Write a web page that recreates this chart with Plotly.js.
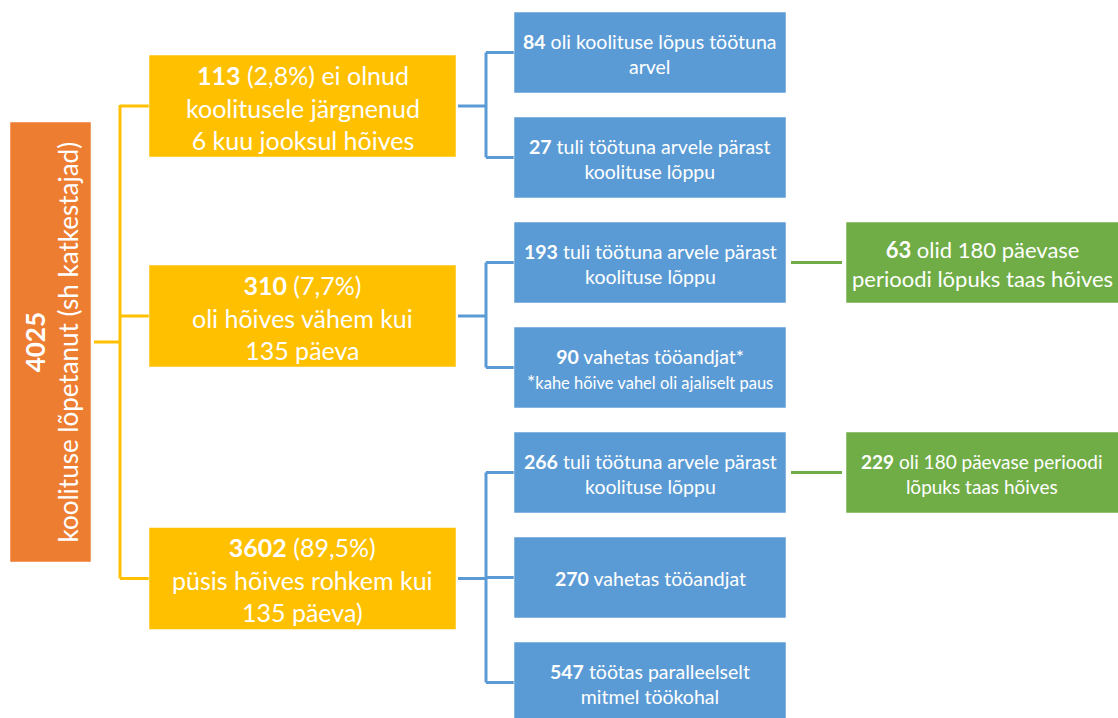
<!DOCTYPE html>
<html>
<head>
<meta charset="utf-8">
<script src="https://cdn.plot.ly/plotly-3.0.1.min.js"></script>
<style>html,body{margin:0;padding:0;background:#fff;}#chart{width:1118px;height:718px;}</style>
</head>
<body>
<div id="chart"></div>
<script>
// ---- data ----
const rootValue = 4025;
const rootLabel = 'koolituse lõpetanut (sh katkestajad)';

const level2Values = [113, 310, 3602];
const level2Pct = ['2,8%', '7,7%', '89,5%'];
const level2Labels = [
  ' ei olnud<br>koolitusele järgnenud<br>6 kuu jooksul hõives',
  '<br>oli hõives vähem kui<br>135 päeva',
  '<br>püsis hõives rohkem kui<br>135 päeva)'
];

const level3Values = [84, 27, 193, 90, 266, 270, 547];
const level3Parent = [0, 0, 1, 1, 2, 2, 2];
const level3Labels = [
  ' oli koolituse lõpus töötuna<br>arvel',
  ' tuli töötuna arvele pärast<br>koolituse lõppu',
  ' tuli töötuna arvele pärast<br>koolituse lõppu',
  ' vahetas tööandjat*<br>*<span style="font-size:16.5px">kahe hõive vahel oli ajaliselt paus</span>',
  ' tuli töötuna arvele pärast<br>koolituse lõppu',
  ' vahetas tööandjat',
  ' töötas paralleelselt<br>mitmel töökohal'
];

const level4Values = [63, 229];
const level4Parent = [2, 4];
const level4Labels = [
  ' olid 180 päevase<br>perioodi lõpuks taas hõives',
  ' oli 180 päevase perioodi<br>lõpuks taas hõives'
];

// ---- style / layout constants ----
const C = {orange:'#ED7D31', yellow:'#FFC000', blue:'#5B9BD5', green:'#70AD47'};
const FONT = 'Lato, "Open Sans", sans-serif';
const root = {x0:10, x1:91, y0:122, y1:562};
const l2 = {x0:149, x1:456, h:102, centers:[106, 316, 578.5]};
const l3 = {x0:514, x1:786, h:81, top:12, pitch:105};
const l4 = {x0:846, x1:1118};
const l4FontSize = [22, 19];

const shapes = [];
const annotations = [];
function rect(x0,y0,x1,y1,col){
  shapes.push({type:'rect', xref:'x', yref:'y', x0, y0, x1, y1, fillcolor:col, line:{width:1, color:'rgba(255,255,255,0.5)'}, layer:'above'});
}
function seg(pts,col,w){
  let d = 'M' + pts.map(p=>p[0]+','+p[1]).join(' L');
  shapes.push({type:'path', xref:'x', yref:'y', path:d, line:{color:col, width:w}, layer:'below'});
}
function label(x,y,text,size,angle){
  annotations.push({x, y, xref:'x', yref:'y', text, showarrow:false, textangle:angle||0,
    font:{family:FONT, size, color:'#ffffff'}, align:'center', xanchor:'center', yanchor:'middle'});
}

// root
rect(root.x0, root.y0, root.x1, root.y1, C.orange);
label((root.x0+root.x1)/2+1, (root.y0+root.y1)/2, '<b>'+rootValue+'</b><br>'+rootLabel, 26, -90);

// level 2 + yellow connectors
const yBus = 120;
seg([[root.x1+3, 342],[yBus, 342]], C.yellow, 3);
seg([[yBus, l2.centers[0]-1],[yBus, l2.centers[2]]], C.yellow, 3);
level2Values.forEach((v,i)=>{
  const c = l2.centers[i];
  rect(l2.x0, c-l2.h/2, l2.x1, c+l2.h/2, C.yellow);
  seg([[yBus, c],[l2.x0, c]], C.yellow, 3);
  label((l2.x0+l2.x1)/2, c+1, '<b>'+v+'</b> ('+level2Pct[i]+')'+level2Labels[i], 25);
});

// level 3 + blue connectors
const l3c = level3Values.map((v,i)=> l3.top + i*l3.pitch + l3.h/2);
const bBus = 486;
level2Values.forEach((v,p)=>{
  const kids = level3Parent.map((q,i)=>q===p?i:-1).filter(i=>i>=0);
  const ys = kids.map(i=>l3c[i]);
  seg([[l2.x1+2, l2.centers[p]],[bBus, l2.centers[p]]], C.blue, 3);
  seg([[bBus, Math.min(...ys)],[bBus, Math.max(...ys)]], C.blue, 3);
  ys.forEach(y=>seg([[bBus, y],[l3.x0, y]], C.blue, 3));
});
level3Values.forEach((v,i)=>{
  const c = l3c[i];
  rect(l3.x0, c-l3.h/2, l3.x1, c+l3.h/2, C.blue);
  label((l3.x0+l3.x1)/2, c+1, '<b>'+v+'</b>'+level3Labels[i], 19.5);
});

// level 4 + green connectors
level4Values.forEach((v,i)=>{
  const c = l3c[level4Parent[i]];
  seg([[l3.x1+5, c],[l4.x0-4, c]], C.green, 3);
  rect(l4.x0, c-l3.h/2, l4.x1+2, c+l3.h/2, C.green);
  label((l4.x0+l4.x1)/2, c+1, '<b>'+v+'</b>'+level4Labels[i], l4FontSize[i]);
});

const layout = {
  width:1118, height:718,
  margin:{l:0, r:0, t:0, b:0},
  paper_bgcolor:'#ffffff', plot_bgcolor:'#ffffff',
  xaxis:{range:[0,1118], visible:false, fixedrange:true},
  yaxis:{range:[718,0], visible:false, fixedrange:true},
  showlegend:false,
  shapes, annotations
};
Plotly.newPlot('chart', [{x:[0], y:[0], mode:'markers', marker:{opacity:0}, hoverinfo:'skip'}], layout, {displayModeBar:false, staticPlot:true});
</script>
</body>
</html>
